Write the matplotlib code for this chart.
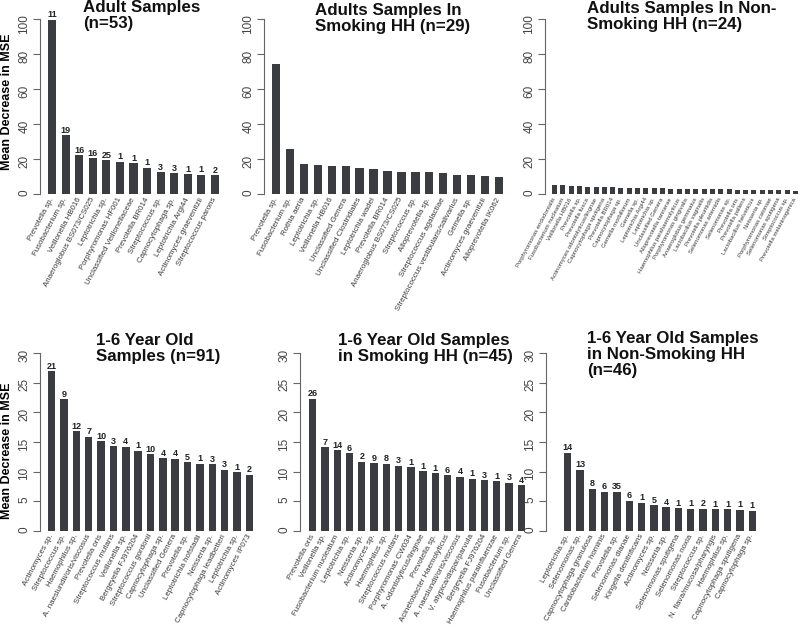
import matplotlib
matplotlib.use('Agg')
import matplotlib.pyplot as plt

plt.rcParams['font.family'] = ['Liberation Sans', 'DejaVu Sans']

# adult samples (n=53)
adult_labels = ['Prevotella sp.', 'Fusobacterium sp.', 'Veillonella HB016',
                'Anaeroglobus BS073/CS025', 'Leptotrichia sp.', 'Porphyromonas HF001',
                'Unclassified Veillonellaceae', 'Prevotella BR014', 'Streptococcus sp.',
                'Capnocytophaga sp.', 'Leptotrichia Argi44', 'Actinomyces graevenitzii',
                'Streptococcus parons']
adult_values = [99.5, 33.7, 22.3, 20.4, 19.4, 18.5, 17.5, 15.0, 12.6, 11.8, 11.2, 11.1, 10.7]
adult_notes = [11, 19, 16, 16, 25, 1, 1, 1, 3, 3, 1, 1, 2]

# adults in smoking HH (n=29)
adsmk_labels = ['Prevotella sp.', 'Fusobacterium sp.', 'Rothia aeria', 'Leptotrichia sp.',
                'Veillonella HB016', 'Unclassified Genera', 'Unclassified Clostridiales',
                'Leptotrichia wadei', 'Prevotella BR014', 'Anaeroglobus BS073/CS025',
                'Streptococcus sp.', 'Alloprevotella sp.', 'Streptococcus agalactiae',
                'Streptococcus vestibularis/salivarius', 'Gemella sp.',
                'Actinomyces graevenitzii', 'Alloprevotella IK062']
adsmk_values = [74.3, 25.7, 17.0, 16.6, 16.2, 15.8, 14.7, 14.1, 13.0, 12.8, 12.6, 12.4,
                12.2, 11.0, 10.7, 10.1, 9.9]

# adults in non-smoking HH (n=24)
adnon_labels = ['Porphyromonas endodontalis', 'Fusobacterium nucleatum', 'Veillonella HB016',
                'Prevotella sp.', 'Prevotella fusca', 'Actinomyces odontolyticus/lingnae',
                'Capnocytophaga sputigena', 'Prevotella BR014', 'Capnocytophaga sp.',
                'Gemella morbillorum', 'Gemella sp.', 'Leptotrichia Argi44', 'Leptotrichia sp.',
                'Unclassified Genera', 'Alloprevotella tannerae', 'Haemophilus parahaemolyticus',
                'Porphyromonas gingivalis', 'Anaeroglobus geminatus', 'Lactobacillus vaginalis',
                'Prevotella pleuritidis', 'Selenomonas artemidis', 'Selenomonas sp.',
                'Prevotella oris', 'Prevotella pallens', 'Lactobacillus helveticus',
                'Neisseria sp.', 'Porphyromonas catoniae', 'Selenomonas sputigena',
                'Streptococcus sp.', 'Prevotella melaninogenica']
adnon_values = [5.2, 4.9, 4.6, 4.4, 4.2, 4.0, 3.9, 3.8, 3.7, 3.6, 3.5, 3.4, 3.3, 3.2, 3.1,
                3.0, 3.0, 2.9, 2.8, 2.7, 2.7, 2.6, 2.5, 2.5, 2.4, 2.3, 2.3, 2.2, 2.1, 2.0]

# 1-6 year olds (n=91)
kid_labels = ['Actinomyces sp.', 'Streptococcus sp.', 'Haemophilus sp.',
              'A. naeslundii/oris/viscosus', 'Prevotella oris', 'Streptococcus mutans',
              'Veillonella sp.', 'Bergeyella FJ976204', 'Streptococcus gordonii',
              'Capnocytophaga sp.', 'Unclassified Genera', 'Prevotella sp.',
              'Leptotrichia hofstadii', 'Neisseria sp.', 'Capnocytophaga leadbetteri',
              'Leptotrichia sp.', 'Actinomyces IP073']
kid_values = [27.0, 22.2, 16.8, 15.9, 15.1, 14.3, 14.2, 13.5, 12.9, 12.3, 12.2, 11.6,
              11.3, 11.2, 10.3, 9.9, 9.5]
kid_notes = [21, 9, 12, 7, 10, 3, 4, 1, 10, 4, 4, 5, 1, 3, 3, 1, 2]

# 1-6 year olds in smoking HH (n=45)
kdsmk_labels = ['Prevotella oris', 'Veillonella sp.', 'Fusobacterium nucleatum',
                'Leptotrichia sp.', 'Neisseria sp.', 'Actinomyces sp.', 'Haemophilus sp.',
                'Streptococcus mutans', 'Porphyromonas CW034', 'A. odontolyticus/lingnae',
                'Prevotella sp.', 'Acinetobacter Haemolyticus', 'A. naeslundii/oris/viscosus',
                'V. atypica/dispar/parvula', 'Bergeyella FJ976204',
                'Haemophilus parainfluenzae', 'Fusobacterium sp.', 'Unclassified Genera']
kdsmk_values = [22.3, 14.1, 13.6, 13.1, 11.7, 11.4, 11.3, 11.0, 10.7, 10.1, 9.7, 9.35,
                9.1, 8.8, 8.5, 8.35, 8.1, 7.7]
kdsmk_notes = [26, 7, 14, 6, 2, 9, 8, 3, 1, 1, 1, 6, 4, 1, 3, 1, 3, 4]

# 1-6 year olds in non-smoking HH (n=46)
kdnon_labels = ['Leptotrichia sp.', 'Selenomonas sp.', 'Capnocytophaga granulosa',
                'Cardiobacterium hominis', 'Prevotella sp.', 'Selenomonas dianae',
                'Kingella denitrificans', 'Actinomyces sp.', 'Neisseria sp.',
                'Selenomonas sputigena', 'Selenomonas noxia', 'Streptococcus sp.',
                'N. flava/mucosa/pharyngis', 'Haemophilus sp.', 'Capnocytophaga sputigena',
                'Capnocytophaga sp.']
kdnon_values = [13.2, 10.3, 7.1, 6.6, 6.6, 5.1, 4.7, 4.3, 4.0, 3.85, 3.75, 3.7, 3.65,
                3.6, 3.55, 3.35]
kdnon_notes = [14, 13, 8, 6, 35, 6, 1, 5, 4, 1, 1, 2, 1, 1, 1, 1]

W, H = 800, 629
bar_col = '#3b3b42'
fig = plt.figure(figsize=(W / 100, H / 100), dpi=100)


def panel(L, B1, Bn, ytop, ybot, ymax, step, labels, values, notes=None, lab_size=5.7):
    n = len(values)
    w = 0.6
    p = (Bn - B1) / (n - 1 + w)
    pad = (B1 - L) / p
    R = Bn + (B1 - L)
    ax = fig.add_axes([L / W, 1 - ybot / H, (R - L) / W, (ybot - ytop) / H])
    x = list(range(n))
    ax.bar(x, values, width=w, color=bar_col, linewidth=0)
    ax.set_xlim(-w / 2 - pad, n - 1 + w / 2 + pad)
    ax.set_ylim(0, ymax)
    for s in ['top', 'right', 'bottom']:
        ax.spines[s].set_visible(False)
    ax.spines['left'].set_color('#666666')
    ax.spines['left'].set_linewidth(0.8)
    ax.set_yticks(range(0, ymax + 1, step))
    ax.tick_params(axis='y', labelrotation=90, length=5, width=0.8, color='#666666',
                   labelsize=8.5, labelcolor='#444444', pad=2)
    ax.set_xticks(x)
    ax.set_xticklabels(labels, rotation=62, ha='right', rotation_mode='anchor',
                       fontsize=lab_size, color='#3a3a3a')
    ax.tick_params(axis='x', length=0, pad=3)
    for lab in ax.get_xticklabels():
        lab.set_va('center')
    if notes is not None:
        for i, (v, t) in enumerate(zip(values, notes)):
            ax.annotate(str(t), (i, v), xytext=(0, 0.3), textcoords='offset points',
                        ha='center', va='bottom', fontsize=6.5, fontweight='bold',
                        color='#222222', annotation_clip=False)
    return ax


panel(40, 48, 219, 19, 194, 100, 20, adult_labels, adult_values, adult_notes)
panel(264, 272, 503, 19, 194, 100, 20, adsmk_labels, adsmk_values)
panel(545, 552, 798, 19, 194, 100, 20, adnon_labels, adnon_values, lab_size=4.3)
panel(40, 48, 253, 353.3, 530.7, 30, 5, kid_labels, kid_values, kid_notes)
panel(300, 309, 525, 353.3, 530.7, 30, 5, kdsmk_labels, kdsmk_values, kdsmk_notes)
panel(546, 564, 756, 353.3, 530.7, 30, 5, kdnon_labels, kdnon_values, kdnon_notes)

titles = [(83, 0, 'Adult Samples\n(n=53)'),
          (315, 3, 'Adults Samples In\nSmoking HH (n=29)'),
          (587, 1, 'Adults Samples In Non-\nSmoking HH (n=24)'),
          (96, 333, '1-6 Year Old\nSamples (n=91)'),
          (338, 333, '1-6 Year Old Samples\nin Smoking HH (n=45)'),
          (587, 331, '1-6 Year Old Samples\nin Non-Smoking HH\n(n=46)')]
for tx, ty, tt in titles:
    fig.text(tx / W, 1 - ty / H, tt, ha='left', va='top', fontsize=12.2,
             fontweight='bold', linespacing=1.1, color='#111111')

fig.text(7 / W, 1 - 102 / H, 'Mean Decrease in MSE', rotation=90, ha='center',
         va='center', fontsize=9, fontweight='bold')
fig.text(7 / W, 1 - 451 / H, 'Mean Decrease in MSE', rotation=90, ha='center',
         va='center', fontsize=9, fontweight='bold')

fig.savefig('out.png', dpi=100, facecolor='white')
